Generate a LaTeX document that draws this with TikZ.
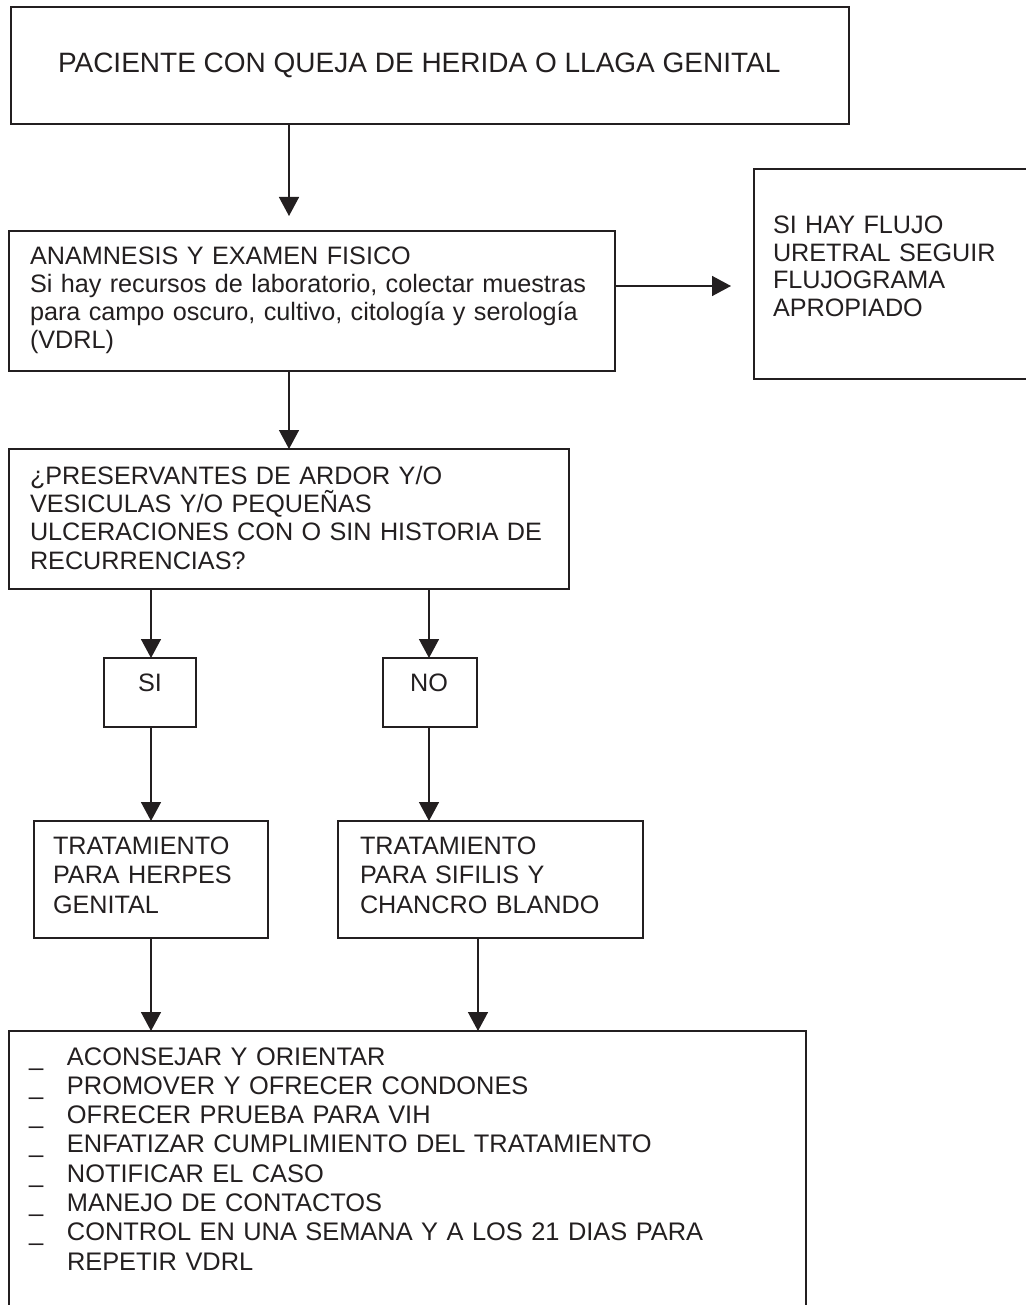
\documentclass[tikz,border=0pt]{standalone}
\usepackage{fontspec}
\setmainfont{Liberation Sans}
\usetikzlibrary{arrows.meta}
\definecolor{ink}{RGB}{35,31,32}
\begin{document}
\begin{tikzpicture}[x=0.5pt,y=-0.5pt,
  box/.style={draw=ink,line width=0.75pt,inner sep=0pt,outer sep=0pt,anchor=north west},
  txt/.style={inner sep=0pt,outer sep=0pt,anchor=base west,align=left,text=ink,
              font=\fontsize{12.6pt}{14.2pt}\selectfont},
  arr/.style={draw=ink,line width=0.75pt,-{Triangle[length=9.5pt,width=10pt]}}]
\useasboundingbox (0,0) rectangle (1026,1305);

% boxes
\node[box,minimum width=419pt,minimum height=58.5pt] (top)    at (11,7)    {};
\node[box,minimum width=303pt,minimum height=70pt]   (exam)   at (9,231)   {};
\node[box,minimum width=145pt,minimum height=105pt]  (flujo)  at (754,169) {};
\node[box,minimum width=280pt,minimum height=70pt]   (quest)  at (9,449)   {};
\node[box,minimum width=46pt,minimum height=34.5pt]  (si)     at (104,658) {};
\node[box,minimum width=47pt,minimum height=34.5pt]  (no)     at (383,658) {};
\node[box,minimum width=117pt,minimum height=58.5pt] (herpes) at (34,821)  {};
\node[box,minimum width=152.5pt,minimum height=58.5pt] (sifilis) at (338,821) {};
\node[box,minimum width=398.5pt,minimum height=145pt] (final) at (9,1031)  {};

% texts
\node[txt,font=\fontsize{14pt}{16pt}\selectfont] (ttop) at (58,73)
  {PACIENTE CON QUEJA DE HERIDA O LLAGA GENITAL};
\node[txt,text width=300pt,font=\fontsize{12.6pt}{14pt}\selectfont] (texam) at (30,264)
  {ANAMNESIS Y EXAMEN FISICO\\
   Si hay recursos de laboratorio, colectar muestras\\
   para campo oscuro, cultivo, citología y serología\\
   (VDRL)};
\node[txt,text width=130pt,font=\fontsize{12.6pt}{13.75pt}\selectfont] (tflujo) at (773,234)
  {SI HAY FLUJO\\URETRAL SEGUIR\\FLUJOGRAMA\\APROPIADO};
\node[txt,text width=270pt] (tquest) at (30,484)
  {¿PRESERVANTES DE ARDOR Y/O\\
   VESICULAS Y/O PEQUEÑAS\\
   ULCERACIONES CON O SIN HISTORIA DE\\
   RECURRENCIAS?};
\node[txt,anchor=base] (tsi) at (150,691) {SI};
\node[txt,anchor=base] (tno) at (429,691) {NO};
\node[txt,text width=110pt,font=\fontsize{12.6pt}{14.75pt}\selectfont] (therpes) at (53,854)
  {TRATAMIENTO\\PARA HERPES\\GENITAL};
\node[txt,text width=140pt,font=\fontsize{12.6pt}{14.75pt}\selectfont] (tsifilis) at (360,854)
  {TRATAMIENTO\\PARA SIFILIS Y\\CHANCRO BLANDO};
\node[txt,text width=380pt,font=\fontsize{12.7pt}{14.65pt}\selectfont] (tfinal) at (29,1065)
  {\makebox[19pt][l]{\_}ACONSEJAR Y ORIENTAR\\
   \makebox[19pt][l]{\_}PROMOVER Y OFRECER CONDONES\\
   \makebox[19pt][l]{\_}OFRECER PRUEBA PARA VIH\\
   \makebox[19pt][l]{\_}ENFATIZAR CUMPLIMIENTO DEL TRATAMIENTO\\
   \makebox[19pt][l]{\_}NOTIFICAR EL CASO\\
   \makebox[19pt][l]{\_}MANEJO DE CONTACTOS\\
   \makebox[19pt][l]{\_}CONTROL EN UNA SEMANA Y A LOS 21 DIAS PARA\\
   \hspace*{19pt}REPETIR VDRL};

% connector columns and rows
\coordinate (cmain) at (289,0);
\coordinate (cleft) at (151,0);
\coordinate (cno)   at (429,0);
\coordinate (csif)  at (478,0);
\coordinate (rside) at (0,286);

% connectors
\draw[arr,shorten >=7.5pt] (top.south -| cmain) -- (exam.north -| cmain);
\draw[arr,shorten >=11.5pt] (exam.east |- rside) -- (flujo.west |- rside);
\draw[arr] (exam.south -| cmain) -- (quest.north -| cmain);
\draw[arr] (quest.south -| cleft) -- (si.north -| cleft);
\draw[arr] (quest.south -| cno) -- (no.north -| cno);
\draw[arr] (si.south -| cleft) -- (herpes.north -| cleft);
\draw[arr] (no.south -| cno) -- (sifilis.north -| cno);
\draw[arr] (herpes.south -| cleft) -- (final.north -| cleft);
\draw[arr] (sifilis.south -| csif) -- (final.north -| csif);
\end{tikzpicture}
\end{document}
